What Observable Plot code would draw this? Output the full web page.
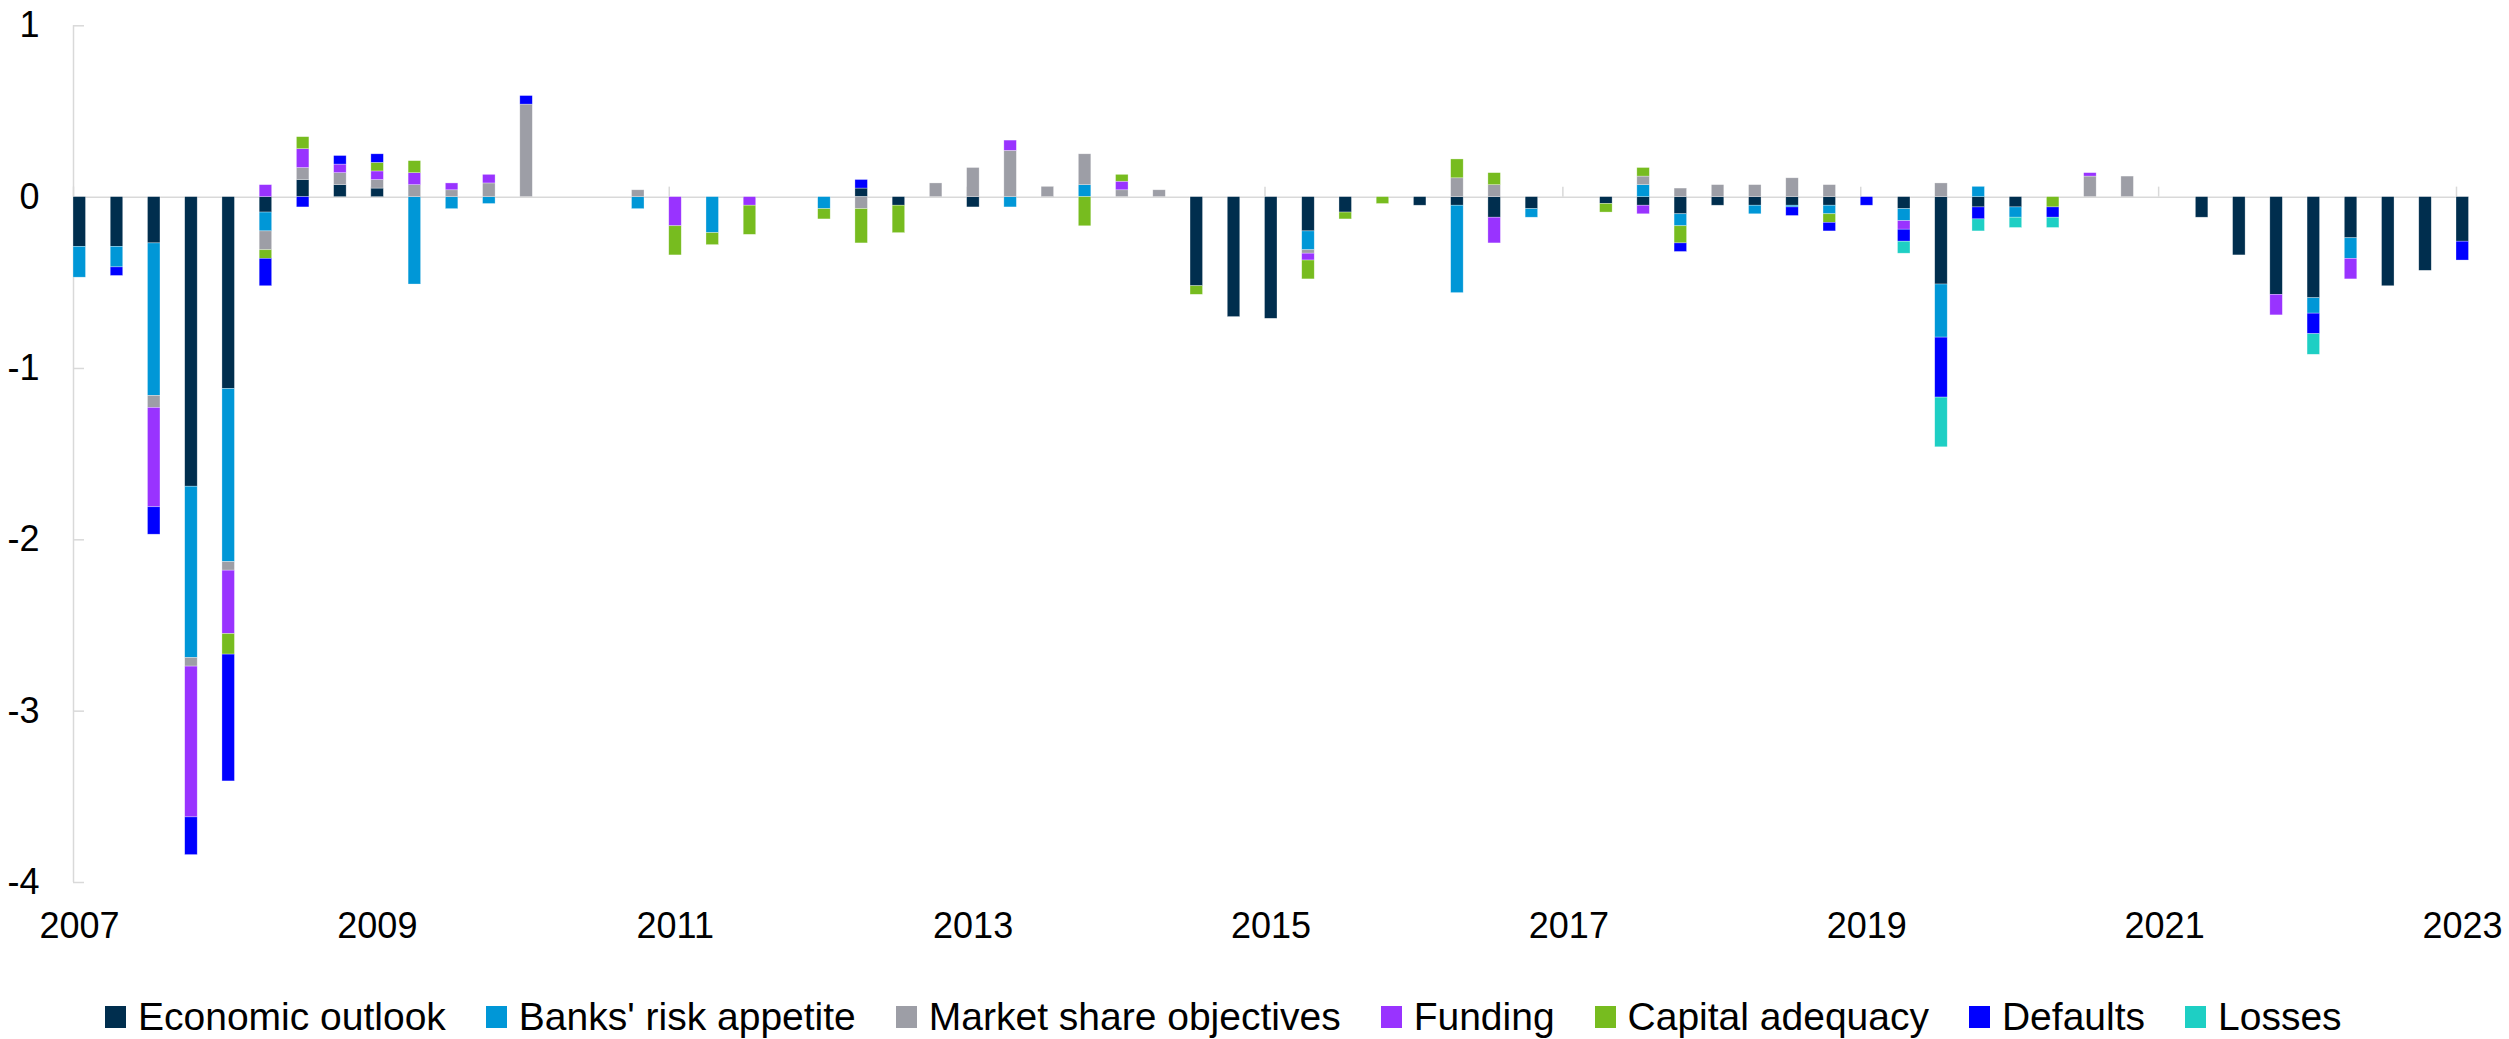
<!DOCTYPE html>
<html>
<head>
<meta charset="utf-8">
<script src="https://cdn.jsdelivr.net/npm/d3@7"></script>
<script src="https://cdn.jsdelivr.net/npm/@observablehq/plot@0.6"></script>
<style>
  html, body { margin: 0; background: #fff; font-family: "Liberation Sans", Arial, sans-serif; overflow: hidden; }
  #legend { display: flex; align-items: center; padding-left: 105px; padding-top: 21px; height: 42px; font-size: 39px; color: #000; white-space: nowrap; }
  #legend .item { display: flex; align-items: center; margin-right: 40px; }
  #legend .sw { width: 21px; height: 22px; margin-right: 12px; flex: none; }
</style>
</head>
<body>
<div id="chart"></div>
<div id="legend"></div>
<script>
// ---- Data ----
const quarters = [
  "2007Q1","2007Q2","2007Q3","2007Q4","2008Q1","2008Q2","2008Q3","2008Q4",
  "2009Q1","2009Q2","2009Q3","2009Q4","2010Q1","2010Q2","2010Q3","2010Q4",
  "2011Q1","2011Q2","2011Q3","2011Q4","2012Q1","2012Q2","2012Q3","2012Q4",
  "2013Q1","2013Q2","2013Q3","2013Q4","2014Q1","2014Q2","2014Q3","2014Q4",
  "2015Q1","2015Q2","2015Q3","2015Q4","2016Q1","2016Q2","2016Q3","2016Q4",
  "2017Q1","2017Q2","2017Q3","2017Q4","2018Q1","2018Q2","2018Q3","2018Q4",
  "2019Q1","2019Q2","2019Q3","2019Q4","2020Q1","2020Q2","2020Q3","2020Q4",
  "2021Q1","2021Q2","2021Q3","2021Q4","2022Q1","2022Q2","2022Q3","2022Q4",
  "2023Q1"
];

const seriesNames = ["Economic outlook", "Banks' risk appetite", "Market share objectives", "Funding", "Capital adequacy", "Defaults", "Losses"];
const seriesColors = ["#002E4E", "#0097D7", "#9D9EA6", "#9933FF", "#77BC1F", "#0000FF", "#1ECFC4"];

const economicOutlook = [
  -0.29,-0.29,-0.27,-1.69,-1.12,-0.09, 0.10, 0.07,
   0.05, 0,    0,    0,    0,    0,    0,    0,
   0,    0,    0,    0,    0,    0.05,-0.05, 0,
  -0.06, 0,    0,    0,    0,    0,   -0.52,-0.70,
  -0.71,-0.20,-0.09, 0,   -0.05,-0.05,-0.12,-0.07,
   0,   -0.04,-0.05,-0.10,-0.05,-0.05,-0.05,-0.05,
   0,   -0.07,-0.51,-0.06,-0.06, 0,    0,    0,
   0,   -0.12,-0.34,-0.57,-0.59,-0.24,-0.52,-0.43,
  -0.26
];
const banksRiskAppetite = [
  -0.18,-0.12,-0.89,-1.00,-1.01,-0.11, 0,    0,
   0,   -0.51,-0.07,-0.04, 0,    0,    0,   -0.07,
   0,   -0.21, 0,    0,   -0.07, 0,    0,    0,
   0,   -0.06, 0,    0.07, 0,    0,    0,    0,
   0,   -0.11, 0,    0,    0,   -0.51, 0,   -0.05,
   0,    0,    0.07,-0.07, 0,   -0.05,-0.01,-0.05,
   0,   -0.07,-0.31, 0.06,-0.06, 0,    0,    0,
   0,    0,    0,    0,   -0.09,-0.12, 0,    0,
   0
];
const marketShareObjectives = [
   0,    0,   -0.07,-0.05,-0.05,-0.11, 0.07, 0.07,
   0.05, 0.07, 0.04, 0.08, 0.54, 0,    0,    0.04,
   0,    0,    0,    0,    0,   -0.07, 0,    0.08,
   0.17, 0.27, 0.06, 0.18, 0.04, 0.04, 0,    0,
   0,   -0.02, 0,    0,    0,    0.11, 0.07, 0,
   0,    0,    0.05, 0.05, 0.07, 0.07, 0.11, 0.07,
   0,    0,    0.08, 0,    0,    0,    0.12, 0.12,
   0,    0,    0,    0,    0,    0,    0,    0,
   0
];
const funding = [
   0,    0,   -0.58,-0.88,-0.37, 0.07, 0.11, 0.05,
   0.05, 0.07, 0.04, 0.05, 0,    0,    0,    0,
  -0.17, 0,   -0.05, 0,    0,    0,    0,    0,
   0,    0.06, 0,    0,    0.05, 0,    0,    0,
   0,   -0.04, 0,    0,    0,    0,   -0.15, 0,
   0,    0,   -0.05, 0,    0,    0,    0,    0,
   0,   -0.05, 0,    0,    0,    0,    0.02, 0,
   0,    0,    0,   -0.12, 0,   -0.12, 0,    0,
   0
];
const capitalAdequacy = [
   0,    0,    0,    0,   -0.12,-0.05, 0.07, 0,
   0.05, 0.07, 0,    0,    0,    0,    0,    0,
  -0.17,-0.07,-0.17, 0,   -0.06,-0.20,-0.16, 0,
   0,    0,    0,   -0.17, 0.04, 0,   -0.05, 0,
   0,   -0.11,-0.04,-0.04, 0,    0.11, 0.07, 0,
   0,   -0.05, 0.05,-0.10, 0,    0,    0,   -0.05,
   0,    0,    0,    0,    0,   -0.06, 0,    0,
   0,    0,    0,    0,    0,    0,    0,    0,
   0
];
const defaults = [
   0,   -0.05,-0.16,-0.22,-0.74,-0.16,-0.06, 0.05,
   0.05, 0,    0,    0,    0.05, 0,    0,    0,
   0,    0,    0,    0,    0,    0.05, 0,    0,
   0,    0,    0,    0,    0,    0,    0,    0,
   0,    0,    0,    0,    0,    0,    0,    0,
   0,    0,    0,   -0.05, 0,    0,   -0.05,-0.05,
  -0.05,-0.07,-0.35,-0.07, 0,   -0.06, 0,    0,
   0,    0,    0,    0,   -0.12, 0,    0,    0,
  -0.11
];
const losses = [
   0,    0,    0,    0,    0,    0,    0,    0,
   0,    0,    0,    0,    0,    0,    0,    0,
   0,    0,    0,    0,    0,    0,    0,    0,
   0,    0,    0,    0,    0,    0,    0,    0,
   0,    0,    0,    0,    0,    0,    0,    0,
   0,    0,    0,    0,    0,    0,    0,    0,
   0,   -0.07,-0.29,-0.07,-0.06,-0.06, 0,    0,
   0,    0,    0,    0,   -0.12, 0,    0,    0,
   0
];

const yTicks = [-4, -3, -2, -1, 0, 1];
const xTickYears = [2007, 2009, 2011, 2013, 2015, 2017, 2019, 2021, 2023];

// ---- Build table ----
const seriesValues = [economicOutlook, banksRiskAppetite, marketShareObjectives, funding, capitalAdequacy, defaults, losses];
const barYears = 12.5 / 148.94; // bar width expressed in years
const rows = [];
seriesNames.forEach((name, s) => {
  quarters.forEach((q, k) => {
    const v = seriesValues[s][k];
    if (!v) return;
    const year = +q.slice(0, 4), qu = +q.slice(5);
    const t0 = year + (qu - 1) / 4;
    rows.push({quarter: q, t0, t1: t0 + barYears, series: name, value: v});
  });
});

const axisColor = "#d9d9d9";
const font = '"Liberation Sans", Arial, sans-serif';

const chart = Plot.plot({
  width: 2509,
  height: 975,
  marginLeft: 73,
  marginRight: 40.5,
  marginTop: 25.3,
  marginBottom: 93,
  style: {fontFamily: font, fontSize: "36px", color: "#000", background: "#fff"},
  x: {type: "linear", domain: [2007, 2023 + barYears], axis: null},
  y: {domain: [-4, 1], axis: null},
  color: {domain: seriesNames, range: seriesColors},
  marks: [
    Plot.ruleY([0], {stroke: axisColor, strokeWidth: 1.5}),
    Plot.ruleX([2007], {y1: -4, y2: 1, stroke: axisColor, strokeWidth: 1.5}),
    Plot.ruleY(yTicks, {y: d => d, x1: 2007, x2: 2007, insetRight: -11, stroke: axisColor, strokeWidth: 1.5}),
    Plot.ruleX(xTickYears, {x: d => d, y1: 0, y2: 0, insetTop: -10, stroke: axisColor, strokeWidth: 1.5}),
    Plot.rectY(rows, Plot.stackY({
      x1: "t0", x2: "t1", y: "value", fill: "series",
      stroke: "#ffffff", strokeWidth: 0.6, strokeOpacity: 0.5
    })),
    Plot.axisY(yTicks, {anchor: "left", label: null, tickSize: 0, tickPadding: 34, tickFormat: d => String(d), fontSize: 36, fill: "#000"}),
    Plot.axisX(xTickYears, {anchor: "bottom", label: null, tickSize: 0, tickPadding: 30, dx: 6, tickFormat: d => String(d), fontSize: 36, fill: "#000"})
  ]
});
document.getElementById("chart").appendChild(chart);

// ---- Legend ----
const legend = d3.select("#legend");
seriesNames.forEach((name, i) => {
  const item = legend.append("div").attr("class", "item");
  item.append("div").attr("class", "sw").style("background", seriesColors[i]);
  item.append("span").text(name);
});
</script>
</body>
</html>
